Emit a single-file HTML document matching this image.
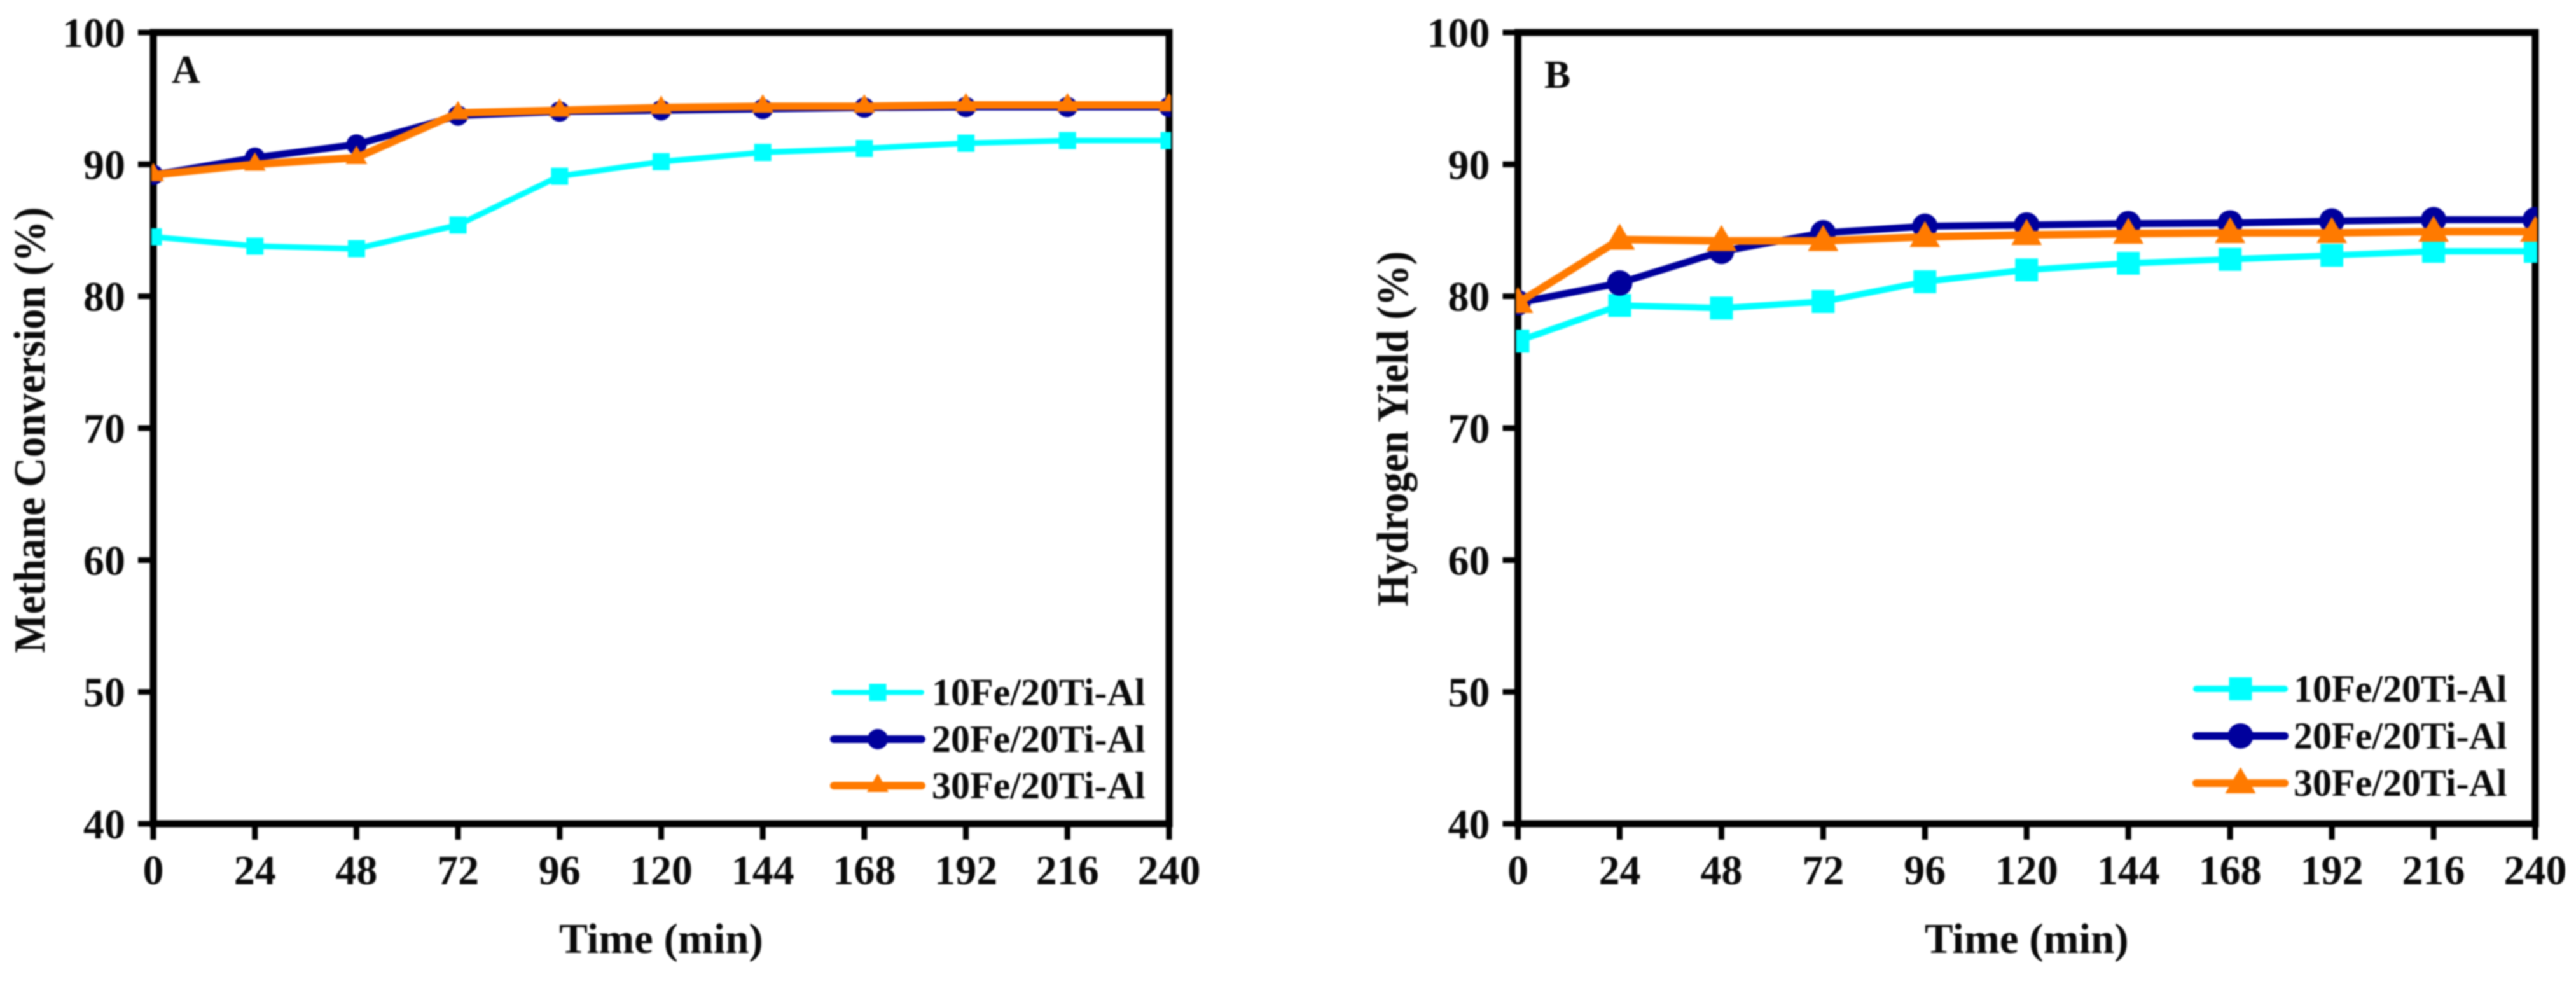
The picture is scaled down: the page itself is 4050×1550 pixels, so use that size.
<!DOCTYPE html>
<html lang="en">
<head>
<meta charset="utf-8">
<title>Methane Conversion and Hydrogen Yield</title>
<style>
html,body{margin:0;padding:0;background:#fff;width:4050px;height:1550px;overflow:hidden}
svg{display:block;filter:blur(1.2px)}
text{font-family:"Liberation Serif",serif;font-weight:bold;fill:#0a0a0a}
</style>
</head>
<body>
<svg id="figure" xmlns="http://www.w3.org/2000/svg" width="4050" height="1550" viewBox="0 0 4050 1550"></svg>
<script>
const timeCategories = [0, 24, 48, 72, 96, 120, 144, 168, 192, 216, 240];
const yTickLabels = [40, 50, 60, 70, 80, 90, 100];
const seriesNames = ['10Fe/20Ti-Al', '20Fe/20Ti-Al', '30Fe/20Ti-Al'];
const methane10Fe = [84.5, 83.8, 83.6, 85.4, 89.1, 90.2, 90.9, 91.2, 91.6, 91.8, 91.8];
const methane20Fe = [89.2, 90.5, 91.5, 93.7, 94.0, 94.1, 94.2, 94.3, 94.35, 94.35, 94.35];
const methane30Fe = [89.2, 90.0, 90.5, 93.9, 94.1, 94.3, 94.4, 94.4, 94.5, 94.5, 94.5];
const hydrogen10Fe = [76.6, 79.3, 79.1, 79.6, 81.1, 82.0, 82.5, 82.8, 83.1, 83.4, 83.4];
const hydrogen20Fe = [79.5, 81.0, 83.4, 84.8, 85.3, 85.4, 85.5, 85.55, 85.7, 85.8, 85.8];
const hydrogen30Fe = [79.5, 84.3, 84.2, 84.2, 84.5, 84.65, 84.75, 84.8, 84.8, 84.9, 84.9];

const SVG_NS = 'http://www.w3.org/2000/svg';
const figure = document.getElementById('figure');
const palette = ['#00ffff', '#00009c', '#ff7a00'];
const topY = 51, bottomY = 1295;

function make(tag, parent, attrs) {
  const el = document.createElementNS(SVG_NS, tag);
  for (const k in attrs) el.setAttribute(k, attrs[k]);
  parent.appendChild(el);
  return el;
}

function drawMarker(parent, kind, cx, cy, size, colour) {
  let el;
  if (kind === 0) {
    el = make('rect', parent, {x: cx - size.sq / 2, y: cy - size.sq / 2, width: size.sq, height: size.sq, fill: colour});
  } else if (kind === 1) {
    el = make('circle', parent, {cx: cx, cy: cy, r: size.r, fill: colour});
  } else {
    el = make('polygon', parent, {
      points: cx + ',' + (cy - size.triUp) + ' ' + (cx + size.triHalf) + ',' + (cy + size.triDown) + ' ' + (cx - size.triHalf) + ',' + (cy + size.triDown),
      fill: colour
    });
  }
  return el;
}

function drawPanel(cfg) {
  const g = make('g', figure, {});
  
  
  const xScale = t => cfg.left + (t / 240) * (cfg.right - cfg.left);
  const yScale = v => topY + ((100 - v) / 60) * (bottomY - topY);

  const frame = make('rect', g, {x: cfg.left, y: topY, width: cfg.right - cfg.left, height: bottomY - topY, fill: 'none', stroke: '#000', 'stroke-width': 11});
  
  

  yTickLabels.forEach(v => {
    const tick = make('line', g, {x1: cfg.left - 24, x2: cfg.left, y1: yScale(v), y2: yScale(v), stroke: '#000', 'stroke-width': 9});
    
    
    const label = make('text', g, {x: cfg.left - 44, y: yScale(v) + 23, 'text-anchor': 'end', 'font-size': 66});
    
    
    label.textContent = v;
  });

  timeCategories.forEach(t => {
    const tick = make('line', g, {x1: xScale(t), x2: xScale(t), y1: bottomY, y2: bottomY + 25, stroke: '#000', 'stroke-width': 9});
    
    
    const label = make('text', g, {x: xScale(t), y: 1390, 'text-anchor': 'middle', 'font-size': 66});
    
    
    label.textContent = t;
  });

  const clipId = cfg.id + '-clip';
  const clip = make('clipPath', g, {id: clipId});
  make('rect', clip, {x: cfg.left - 3, y: 0, width: cfg.right - cfg.left + 6, height: 1550});

  const plot = make('g', g, {'clip-path': 'url(#' + clipId + ')'});
  
  

  cfg.series.forEach((values, s) => {
    const pts = values.map((v, i) => xScale(timeCategories[i]) + ',' + yScale(v)).join(' ');
    const line = make('polyline', plot, {points: pts, fill: 'none', stroke: palette[s], 'stroke-width': cfg.lineWidths[s], 'stroke-linejoin': 'round'});
    
    
    values.forEach((v, i) => {
      const m = drawMarker(plot, s, xScale(timeCategories[i]), yScale(v), cfg.marker, palette[s]);
      
      
    });
  });

  const letter = make('text', g, {x: cfg.letterX, y: cfg.letterY, 'font-size': 62});
  
  
  letter.textContent = cfg.letter;

  const xTitle = make('text', g, {x: (cfg.left + cfg.right) / 2, y: 1498, 'text-anchor': 'middle', 'font-size': 67});
  
  
  xTitle.textContent = 'Time (min)';

  const yTitle = make('text', g, {transform: 'translate(' + cfg.yTitleX + ',' + cfg.yTitleY + ') rotate(-90) scale(1,1.08)', 'text-anchor': 'middle', 'font-size': 64.7});
  
  
  yTitle.textContent = cfg.yTitle;

  const legend = make('g', g, {});
  
  
  seriesNames.forEach((name, s) => {
    const entry = make('g', legend, {});
    
    
    const ly = cfg.legendY[s];
    make('line', entry, {x1: cfg.legendX1, x2: cfg.legendX2, y1: ly, y2: ly, stroke: palette[s], 'stroke-width': cfg.legendLineWidths[s], 'stroke-linecap': 'round'});
    drawMarker(entry, s, (cfg.legendX1 + cfg.legendX2) / 2, ly, cfg.marker, palette[s]);
    const t = make('text', entry, {x: cfg.legendTextX, y: ly + 20, 'font-size': 60});
    t.textContent = name;
  });
}

drawPanel({
  id: 'panel-a', letter: 'A', letterX: 270, letterY: 130,
  left: 241, right: 1838,
  series: [methane10Fe, methane20Fe, methane30Fe],
  lineWidths: [9, 11, 12],
  marker: {sq: 27, r: 16, triUp: 19, triDown: 10, triHalf: 17},
  yTitle: 'Methane Conversion (%)', yTitleX: 70, yTitleY: 676,
  legendX1: 1311, legendX2: 1449, legendY: [1088.5, 1162, 1235], legendLineWidths: [8, 12, 12], legendTextX: 1465
});

drawPanel({
  id: 'panel-b', letter: 'B', letterX: 2428, letterY: 138,
  left: 2386.5, right: 3986,
  series: [hydrogen10Fe, hydrogen20Fe, hydrogen30Fe],
  lineWidths: [10, 11, 12],
  marker: {sq: 36, r: 20, triUp: 25, triDown: 16, triHalf: 24},
  yTitle: 'Hydrogen Yield (%)', yTitleX: 2213, yTitleY: 674,
  legendX1: 3453, legendX2: 3592, legendY: [1083, 1157, 1231], legendLineWidths: [10, 12, 12], legendTextX: 3606
});
</script>
</body>
</html>
